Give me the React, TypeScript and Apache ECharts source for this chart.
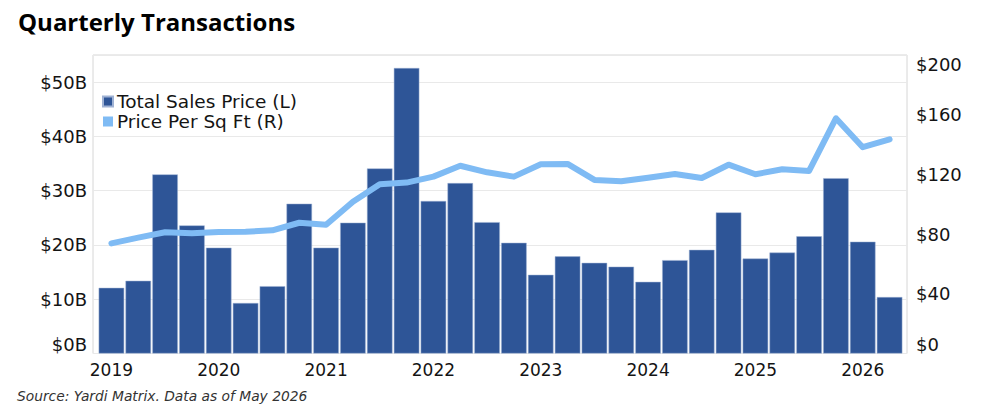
import React, { useEffect, useRef } from "react";
import * as echarts from "echarts";

// Quarters 2019 Q1 through 2026 Q2
const years = ["2019", "2020", "2021", "2022", "2023", "2024", "2025", "2026"];
const quarters: string[] = [];
years.forEach((y) => {
  for (let q = 1; q <= 4; q++) {
    if (y === "2026" && q > 2) break;
    quarters.push(`${y} Q${q}`);
  }
});

// Total sales price, $ billions (left axis)
const totalSalesPrice = [
  12.1, 13.4, 33.0, 23.6, 19.5, 9.3, 12.4, 27.6, 19.5, 24.1,
  34.1, 52.6, 28.1, 31.4, 24.2, 20.4, 14.5, 17.9, 16.7, 16.0,
  13.2, 17.2, 19.1, 26.0, 17.5, 18.6, 21.6, 32.3, 20.6, 10.4,
];

// Price per square foot, $ (right axis)
const pricePerSqFt = [
  73.8, 77.6, 81.2, 80.5, 81.4, 81.6, 82.5, 87.6, 86.3, 101.7,
  113.4, 114.5, 118.5, 125.8, 121.4, 118.5, 126.8, 127.0, 116.3, 115.4,
  117.8, 120.3, 117.6, 126.5, 120.1, 123.4, 122.3, 157.6, 138.2, 143.5,
];

const leftTicks = { min: 0, max: 55, interval: 10 };
const rightTicks = { min: 0, max: 200, interval: 40 };

const FONT = "'DejaVu Sans'";
const TITLE_FONT = "'Open Sans'";
const TEXT = "#141414";
const BAR = "#2E5597";
const LINE = "#7FBBF4";

export default function App() {
  const ref = useRef<HTMLDivElement>(null);

  useEffect(() => {
    if (!ref.current) return;
    const chart = echarts.init(ref.current, undefined, { renderer: "svg" });
    const top = 55;
    const height = 298.5;

    chart.setOption({
      animation: false,
      textStyle: { fontFamily: FONT, color: TEXT },
      title: {
        text: "Quarterly Transactions",
        left: 13,
        top: 4,
        textStyle: { fontFamily: TITLE_FONT, fontWeight: "bold", fontSize: 24, color: "#000" },
      },
      graphic: [
        {
          type: "text",
          left: 17,
          top: 389,
          style: {
            text: "Source: Yardi Matrix. Data as of May 2026",
            font: `italic 13.8px ${FONT}`,
            fill: "#333",
          },
        },
      ],
      legend: {
        orient: "vertical",
        left: 97,
        top: 87,
        itemWidth: 10,
        itemHeight: 10,
        itemGap: 1,
        icon: "rect",
        textStyle: { fontFamily: FONT, fontSize: 18.5, lineHeight: 18, color: TEXT, padding: [0, 0, 0, -1] },
        data: [
          { name: "Total Sales Price (L)", itemStyle: { color: BAR } },
          { name: "Price Per Sq Ft (R)", itemStyle: { color: LINE } },
        ],
      },
      grid: [
        // data area
        { left: 98, width: 805, top, height, show: false },
        // framed background with gridlines and axis labels
        { left: 93, width: 814, top, height, show: true, borderColor: "#d6d6d6", borderWidth: 1, backgroundColor: "transparent" },
      ],
      xAxis: [
        {
          type: "category",
          gridIndex: 0,
          data: quarters,
          axisLine: { show: false },
          axisTick: { show: false },
          axisLabel: {
            interval: (i: number) => i % 4 === 0,
            formatter: (v: string) => v.slice(0, 4),
            fontFamily: FONT,
            fontSize: 17,
            color: TEXT,
            margin: 8,
          },
        },
        { type: "value", gridIndex: 1, min: 0, max: 1, show: false },
      ],
      yAxis: [
        { type: "value", gridIndex: 0, ...leftTicks, show: false },
        { type: "value", gridIndex: 0, ...rightTicks, show: false },
        {
          type: "value",
          gridIndex: 1,
          position: "left",
          ...leftTicks,
          axisLine: { show: false },
          axisTick: { show: false },
          splitLine: { show: true, lineStyle: { color: "#e9e9e9", width: 1 } },
          axisLabel: {
            formatter: (v: number) => `$${v}B`,
            showMaxLabel: false,
            verticalAlignMinLabel: "bottom",
            fontFamily: FONT,
            fontSize: 18,
            color: TEXT,
            margin: 6,
          },
        },
        {
          type: "value",
          gridIndex: 1,
          position: "right",
          ...rightTicks,
          axisLine: { show: false },
          axisTick: { show: false },
          splitLine: { show: false },
          axisLabel: {
            formatter: (v: number) => `$${v}`,
            verticalAlignMinLabel: "bottom",
            verticalAlignMaxLabel: "top",
            fontFamily: FONT,
            fontSize: 18,
            color: TEXT,
            margin: 9,
          },
        },
      ],
      series: [
        {
          name: "Total Sales Price (L)",
          type: "bar",
          xAxisIndex: 0,
          yAxisIndex: 0,
          data: totalSalesPrice,
          barCategoryGap: "5%",
          itemStyle: { color: BAR, borderColor: "#9fb2d4", borderWidth: 0.5 },
          z: 2,
        },
        {
          name: "Price Per Sq Ft (R)",
          type: "line",
          xAxisIndex: 0,
          yAxisIndex: 1,
          data: pricePerSqFt,
          symbol: "none",
          lineStyle: { color: LINE, width: 6, cap: "round", join: "round" },
          itemStyle: { color: LINE },
          z: 3,
        },
      ],
    });

    return () => chart.dispose();
  }, []);

  return <div ref={ref} style={{ width: 1004, height: 412, position: "absolute", left: 0, top: 0 }} />;
}
